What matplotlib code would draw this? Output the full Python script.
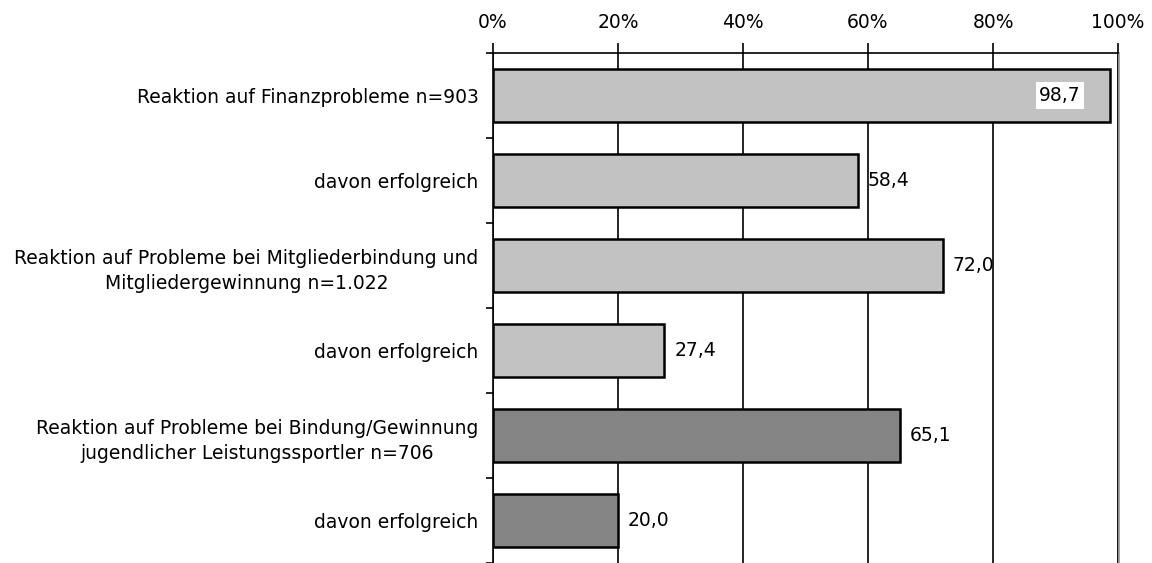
import numpy as np
import matplotlib.pyplot as plt

labels = ['Reaktion auf Finanzprobleme n=903',
          'davon erfolgreich',
          'Reaktion auf Probleme bei Mitgliederbindung und\nMitgliedergewinnung n=1.022',
          'davon erfolgreich',
          'Reaktion auf Probleme bei Bindung/Gewinnung\njugendlicher Leistungssportler n=706',
          'davon erfolgreich']
values = [98.7, 58.4, 72.0, 27.4, 65.1, 20.0]
colors = ['#c2c2c2', '#c2c2c2', '#c2c2c2', '#c2c2c2', '#848484', '#848484']

plt.rcParams['font.family'] = ['DejaVu Sans']
fs = 13.5
fig = plt.figure(figsize=(11.52, 5.63), dpi=100)
ax = fig.add_axes([493/1152, 0.0, (1118-493)/1152, 1 - 53/563])

y = np.arange(len(values))
ax.barh(y, values, height=0.62, color=colors, edgecolor='black', linewidth=1.8, zorder=3)

ax.set_xlim(0, 100)
ax.set_ylim(len(values) - 0.5, -0.5)
ax.set_xticks([0, 20, 40, 60, 80, 100])
ax.set_xticklabels(['0%', '20%', '40%', '60%', '80%', '100%'], fontsize=fs)
ax.xaxis.tick_top()
ax.tick_params(axis='x', direction='out', length=7, width=1.2, pad=8)
ax.grid(axis='x', color='black', linewidth=1.2, zorder=0)

ax.set_yticks(np.arange(len(values) + 1) - 0.5, minor=False)
ax.set_yticklabels([])
ax.tick_params(axis='y', direction='out', length=5, width=1.2)
ax.set_yticks(y, minor=True)
ax.set_yticklabels(labels, minor=True, fontsize=fs, multialignment='center', linespacing=1.45)
ax.tick_params(axis='y', which='minor', length=0, pad=10.5)

ax.spines['bottom'].set_visible(False)
ax.spines['top'].set_linewidth(1.2)
ax.spines['left'].set_linewidth(1.2)
ax.spines['right'].set_color('#8c8c8c')
ax.spines['right'].set_linewidth(1.8)
ax.spines['right'].set_zorder(1)

for i, v in enumerate(values):
    txt = f'{v:.1f}'.replace('.', ',')
    if v > 90:
        ax.text(90.7, i, txt, ha='center', va='center', fontsize=fs, zorder=4,
                bbox=dict(facecolor='white', edgecolor='none', pad=2.5))
    else:
        ax.text(v + 1.6, i, txt, ha='left', va='center', fontsize=fs, zorder=4)

fig.savefig('out.png', dpi=100)
